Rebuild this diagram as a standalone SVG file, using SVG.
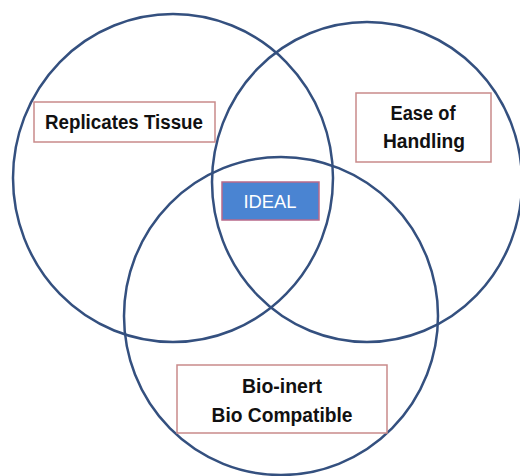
<svg xmlns="http://www.w3.org/2000/svg" width="520" height="476" viewBox="0 0 520 476">
<style>
.c{fill:none;stroke:#34507f;stroke-width:2.5}
.b{fill:#fff;stroke:#c98a8a;stroke-width:1.5}
.t{font-family:"Liberation Sans",Arial,sans-serif;font-weight:bold;font-size:20px;fill:#111;text-anchor:middle}
.i{font-family:"Liberation Sans",Arial,sans-serif;font-size:18px;fill:#fff;text-anchor:middle}
</style>
<rect width="520" height="476" fill="#fff"/>
<g id="circles">
<ellipse class="c" cx="173" cy="178" rx="160" ry="164"/>
<ellipse class="c" cx="367" cy="182" rx="155" ry="160"/>
<ellipse class="c" cx="281" cy="316" rx="157" ry="159"/>
</g>
<g id="replicates">
<rect class="b" x="34" y="102" width="181" height="40"/>
<text class="t" x="124" y="129" textLength="158" lengthAdjust="spacingAndGlyphs">Replicates Tissue</text>
</g>
<g id="ease">
<rect class="b" x="356" y="93" width="135" height="69"/>
<text class="t" x="423" y="120" textLength="65" lengthAdjust="spacingAndGlyphs">Ease of</text>
<text class="t" x="424" y="148" textLength="82" lengthAdjust="spacingAndGlyphs">Handling</text>
</g>
<g id="ideal">
<rect x="222" y="182" width="97" height="38" fill="#4a84d2" stroke="#b86a8a" stroke-width="1.5"/>
<text class="i" x="270" y="208" textLength="53" lengthAdjust="spacingAndGlyphs">IDEAL</text>
</g>
<g id="bio">
<rect class="b" x="177" y="365" width="210" height="68"/>
<text class="t" x="282" y="393" textLength="80" lengthAdjust="spacingAndGlyphs">Bio-inert</text>
<text class="t" x="282" y="422" textLength="141" lengthAdjust="spacingAndGlyphs">Bio Compatible</text>
</g>
</svg>
